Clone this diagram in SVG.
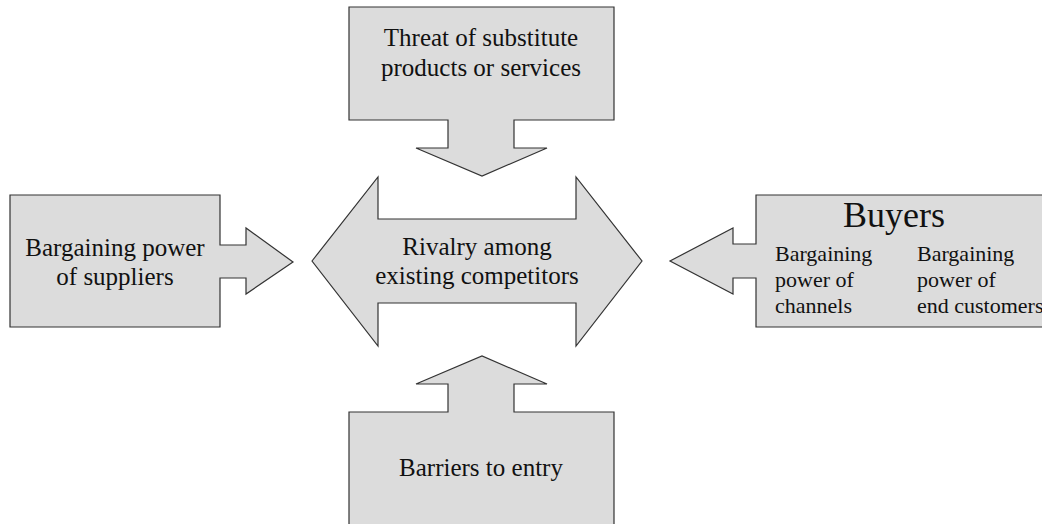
<svg xmlns="http://www.w3.org/2000/svg" width="1042" height="524" viewBox="0 0 1042 524">
  <style>
    .shape { fill: #dcdcdc; stroke: #333333; stroke-width: 1.2; stroke-linejoin: miter; }
    .label { font-family: "Liberation Serif", "Times New Roman", serif; font-size: 25px; fill: #111111; text-anchor: middle; }
    .small { font-family: "Liberation Serif", "Times New Roman", serif; font-size: 22px; fill: #111111; }
    .title { font-family: "Liberation Serif", "Times New Roman", serif; font-size: 36px; fill: #111111; text-anchor: middle; }
  </style>
  <rect width="1042" height="524" fill="#ffffff"/>

  <!-- Top: substitutes, block arrow pointing down -->
  <g id="substitutes">
    <path class="shape" d="M349,7 H614 V120 H514 V148 H547 L482,176 L416,148 H448 V120 H349 Z"/>
    <text class="label" x="481" y="46">Threat of substitute</text>
    <text class="label" x="481" y="76">products or services</text>
  </g>

  <!-- Left: suppliers, block arrow pointing right -->
  <g id="suppliers">
    <path class="shape" d="M10,195 H220 V245 H246 V228 L293,262 L246,294 V278 H220 V327 H10 Z"/>
    <text class="label" x="115" y="256">Bargaining power</text>
    <text class="label" x="115" y="285">of suppliers</text>
  </g>

  <!-- Centre: rivalry, double-headed block arrow -->
  <g id="rivalry">
    <path class="shape" d="M312,261 L378,177 V219 H576 V177 L642,261 L576,346 V303 H378 V346 Z"/>
    <text class="label" x="477" y="255">Rivalry among</text>
    <text class="label" x="477" y="284">existing competitors</text>
  </g>

  <!-- Right: buyers, block arrow pointing left -->
  <g id="buyers">
    <path class="shape" d="M1060,195 H756 V244 H733 V228 L670,261 L733,294 V278 H756 V327 H1060 Z"/>
    <text class="title" x="894" y="227">Buyers</text>
    <text class="small" x="775" y="261">Bargaining</text>
    <text class="small" x="775" y="287">power of</text>
    <text class="small" x="775" y="313">channels</text>
    <text class="small" x="917" y="261">Bargaining</text>
    <text class="small" x="917" y="287">power of</text>
    <text class="small" x="917" y="313">end customers</text>
  </g>

  <!-- Bottom: barriers, block arrow pointing up -->
  <g id="barriers">
    <path class="shape" d="M349,540 V412 H448 V384 H416 L482,356 L547,384 H514 V412 H614 V540 Z"/>
    <text class="label" x="481" y="476">Barriers to entry</text>
  </g>

  <g id="connectors"></g>
</svg>
